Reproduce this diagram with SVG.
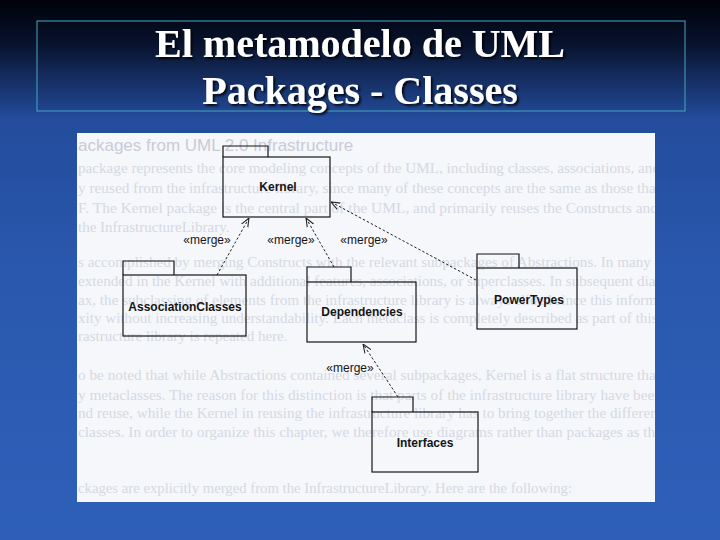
<svg xmlns="http://www.w3.org/2000/svg" width="720" height="540" viewBox="0 0 720 540">
<style>
.pkg{fill:none;stroke:#151515;stroke-width:1.2}
.name{font-family:"Liberation Sans",Arial,sans-serif;font-weight:bold;font-size:12px;fill:#151515;text-anchor:middle}
.st{font-family:"Liberation Sans",Arial,sans-serif;font-size:12px;fill:#151515;text-anchor:middle}
.conn{stroke:#222;stroke-width:1;stroke-dasharray:2.5 2;fill:none}
.bg{font-family:"Liberation Serif","Times New Roman",serif;font-size:15px;fill:#d5d9e2}
.hd{font-family:"Liberation Sans",Arial,sans-serif;font-size:17px;fill:#c8ccd6}
.title{font-family:"Liberation Serif","Times New Roman",serif;font-weight:bold;font-size:40px;fill:#ffffff;text-anchor:middle}
</style>
<defs>
<linearGradient id="sky" x1="0" y1="0" x2="0" y2="1">
<stop offset="0" stop-color="#00020a"/>
<stop offset="0.08" stop-color="#08122c"/>
<stop offset="0.22" stop-color="#234c9c"/>
<stop offset="0.5" stop-color="#2a58ae"/>
<stop offset="1" stop-color="#2e5fb8"/>
</linearGradient>
<clipPath id="scanClip"><rect x="77" y="133" width="578" height="369"/></clipPath>
<filter id="shadow" x="-10%" y="-20%" width="120%" height="150%">
<feDropShadow dx="2" dy="2" stdDeviation="0.8" flood-color="#000" flood-opacity="0.85"/>
</filter>
<marker id="open" viewBox="0 0 10 10" refX="10" refY="5" markerWidth="9" markerHeight="9" markerUnits="userSpaceOnUse" orient="auto">
<path d="M0,1 L10,5 L0,9" fill="none" stroke="#222" stroke-width="1.2"/>
</marker>
</defs>

<rect x="0" y="0" width="720" height="540" fill="url(#sky)"/>

<g id="title">
<rect x="37" y="21" width="648" height="90" fill="none" stroke="#46a7bd" stroke-width="1"/>
<text class="title" x="360" y="57" filter="url(#shadow)">El metamodelo de UML</text>
<text class="title" x="360" y="104" filter="url(#shadow)">Packages - Classes</text>
</g>

<g id="scan">
<rect x="77" y="133" width="578" height="369" fill="#f5f7fb"/>
<g clip-path="url(#scanClip)">
<text class="hd" x="78" y="151">ackages from UML 2.0 Infrastructure</text>
<text class="bg" x="78" y="173" textLength="582" lengthAdjust="spacingAndGlyphs">package represents the core modeling concepts of the UML, including classes, associations, and</text>
<text class="bg" x="78" y="193" textLength="582" lengthAdjust="spacingAndGlyphs">y reused from the infrastructure library, since many of these concepts are the same as those that</text>
<text class="bg" x="78" y="213" textLength="580" lengthAdjust="spacingAndGlyphs">F. The Kernel package is the central part of the UML, and primarily reuses the Constructs and</text>
<text class="bg" x="78" y="232">the InfrastructureLibrary.</text>
<text class="bg" x="78" y="267" textLength="590" lengthAdjust="spacingAndGlyphs">s accomplished by merging Constructs with the relevant subpackages of Abstractions. In many ca</text>
<text class="bg" x="78" y="286" textLength="590" lengthAdjust="spacingAndGlyphs">extended in the Kernel with additional features, associations, or superclasses. In subsequent diagr</text>
<text class="bg" x="78" y="305" textLength="590" lengthAdjust="spacingAndGlyphs">ax, the subclassing of elements from the infrastructure library is always elided since this informat</text>
<text class="bg" x="78" y="323" textLength="590" lengthAdjust="spacingAndGlyphs">xity without increasing understandability. Each metaclass is completely described as part of this c</text>
<text class="bg" x="78" y="341">rastructure library is repeated here.</text>
<text class="bg" x="78" y="380" textLength="590" lengthAdjust="spacingAndGlyphs">o be noted that while Abstractions contained several subpackages, Kernel is a flat structure that l</text>
<text class="bg" x="78" y="400" textLength="584" lengthAdjust="spacingAndGlyphs">y metaclasses. The reason for this distinction is that parts of the infrastructure library have been</text>
<text class="bg" x="78" y="418" textLength="584" lengthAdjust="spacingAndGlyphs">nd reuse, while the Kernel in reusing the infrastructure library has to bring together the different</text>
<text class="bg" x="78" y="437" textLength="584" lengthAdjust="spacingAndGlyphs">classes. In order to organize this chapter, we therefore use diagrams rather than packages as the</text>
<text class="bg" x="78" y="493" textLength="494" lengthAdjust="spacingAndGlyphs">ckages are explicitly merged from the InfrastructureLibrary. Here are the following:</text>
</g>
</g>

<g id="connectors">
<line class="conn" x1="217" y1="275" x2="249" y2="218" marker-end="url(#open)"/>
<line class="conn" x1="334" y1="267" x2="306" y2="218" marker-end="url(#open)"/>
<line class="conn" x1="476" y1="280" x2="331" y2="202" marker-end="url(#open)"/>
<line class="conn" x1="398" y1="397" x2="363" y2="344" marker-end="url(#open)"/>
<text class="st" x="207" y="244">«merge»</text>
<text class="st" x="291" y="244">«merge»</text>
<text class="st" x="364" y="244">«merge»</text>
<text class="st" x="350" y="372">«merge»</text>
</g>

<g id="kernel">
<path class="pkg" d="M223,157 V146 H268 V157"/>
<rect class="pkg" x="223" y="157" width="107" height="60"/>
<text class="name" x="278" y="191">Kernel</text>
</g>

<g id="associationclasses">
<path class="pkg" d="M123,275 V261 H174 V275"/>
<rect class="pkg" x="123" y="275" width="123" height="61"/>
<text class="name" x="185" y="311">AssociationClasses</text>
</g>

<g id="dependencies">
<path class="pkg" d="M307,282 V267 H351 V282"/>
<rect class="pkg" x="307" y="282" width="109" height="60"/>
<text class="name" x="362" y="316">Dependencies</text>
</g>

<g id="powertypes">
<path class="pkg" d="M477,268 V254 H519 V268"/>
<rect class="pkg" x="477" y="268" width="100" height="61"/>
<text class="name" x="529" y="304">PowerTypes</text>
</g>

<g id="interfaces">
<path class="pkg" d="M372,412 V397 H413 V412"/>
<rect class="pkg" x="372" y="412" width="106" height="60"/>
<text class="name" x="425" y="447">Interfaces</text>
</g>
</svg>
